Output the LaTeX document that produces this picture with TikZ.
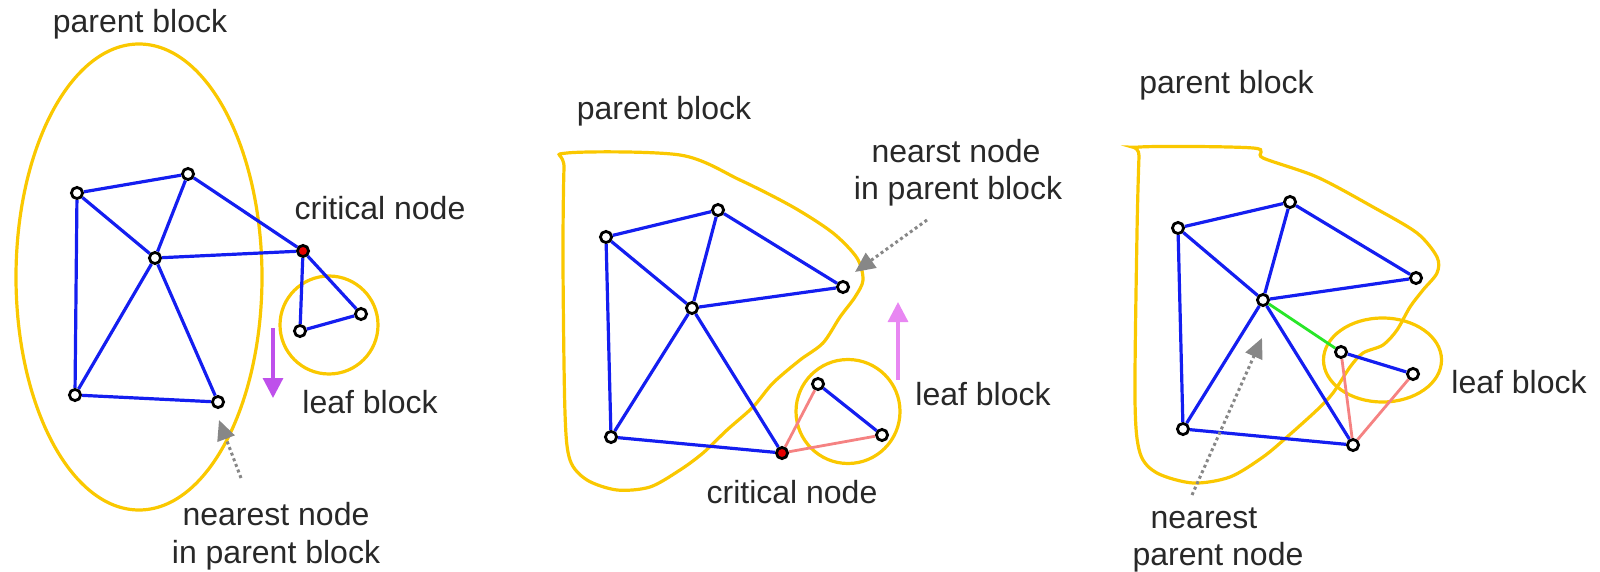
\documentclass[tikz,border=0pt]{standalone}
\usepackage{fontspec}
\setmainfont{Liberation Sans}
\usetikzlibrary{arrows.meta}
\definecolor{eblue}{RGB}{20,30,240}
\definecolor{byellow}{RGB}{250,200,0}
\definecolor{epink}{RGB}{245,130,130}
\definecolor{egreen}{RGB}{40,230,40}
\definecolor{agray}{RGB}{135,135,135}
\definecolor{txt}{RGB}{40,40,40}
\definecolor{violetA}{RGB}{190,80,235}
\definecolor{violetB}{RGB}{232,135,242}
\definecolor{critred}{RGB}{230,0,0}
\begin{document}
\begin{tikzpicture}[x=0.5pt,y=-0.5pt,
  vtx/.style={circle,draw=black,fill=white,line width=1.4pt,inner sep=0pt,minimum size=5.6pt},
  crit/.style={vtx,fill=critred},
  lbl/.style={text=txt,font=\fontsize{16}{19}\selectfont,anchor=base,inner sep=0pt},
  edge/.style={draw=eblue,line width=1.6pt},
  pedge/.style={draw=epink,line width=1.4pt},
  gedge/.style={draw=egreen,line width=1.4pt},
  blk/.style={draw=byellow,line width=1.6pt},
  hint/.style={draw=agray,line width=1.5pt,dash pattern=on 1.5pt off 1.5pt,-{Triangle[length=10pt,width=9pt]}},
  mv/.style={line width=1.6pt,-{Triangle[length=10pt,width=10pt]}}
]
\useasboundingbox (0,0) rectangle (1600,572);

% ================= Panel 1 =================
\draw[blk] (139,277) ellipse [x radius=61.5pt, y radius=116.5pt];
\draw[blk] (329,325) circle [radius=24.5pt];

\node[vtx]  (a1) at (77,193) {};
\node[vtx]  (b1) at (188,174) {};
\node[vtx]  (c1) at (155,258) {};
\node[vtx]  (d1) at (75,395) {};
\node[vtx]  (e1) at (218,402) {};
\node[crit] (f1) at (303,251) {};
\node[vtx]  (g1) at (300,331) {};
\node[vtx]  (h1) at (361,314) {};

\draw[edge] (a1) -- (b1);
\draw[edge] (a1) -- (c1);
\draw[edge] (a1) -- (d1);
\draw[edge] (b1) -- (c1);
\draw[edge] (b1) -- (f1);
\draw[edge] (c1) -- (f1);
\draw[edge] (c1) -- (d1);
\draw[edge] (c1) -- (e1);
\draw[edge] (d1) -- (e1);
\draw[edge] (f1) -- (g1);
\draw[edge] (f1) -- (h1);
\draw[edge] (g1) -- (h1);

\coordinate (m1s) at (273,328);
\coordinate (m1e) at (273,398);
\draw[mv,violetA] (m1s) -- (m1e);

\coordinate (n1s) at (241,478);
\coordinate (n1e) at (219,420);
\draw[hint] (n1s) -- (n1e);

\node[lbl] (pb1) at (140,33) {parent block};
\node[lbl] (cn1) at (380,220) {critical node};
\node[lbl] (lb1) at (370,413) {leaf block};
\node[lbl] (nn1a) at (276,525) {nearest node};
\node[lbl] (nn1b) at (276,563) {in parent block};

% ================= Panel 2 =================
\draw[blk] plot[smooth cycle, tension=0.5] coordinates {
  (567,153) (680,155) (740,180) (793,207) (833,233) (857,258) (863,280)
  (855,297) (840,317) (823,343) (800,360) (773,383) (753,407) (727,430)
  (703,453) (680,470) (650,487) (617,490) (587,480) (570,460) (565,413)
  (563,263) (564,168)};
\draw[blk] (848,411.5) circle [radius=26pt];

\node[vtx]  (a2) at (606,237) {};
\node[vtx]  (b2) at (718,210) {};
\node[vtx]  (c2) at (692,308) {};
\node[vtx]  (d2) at (843,287) {};
\node[vtx]  (e2) at (611,437) {};
\node[crit] (f2) at (782,453) {};
\node[vtx]  (g2) at (818,384) {};
\node[vtx]  (h2) at (882,435) {};

\draw[edge] (a2) -- (b2);
\draw[edge] (a2) -- (c2);
\draw[edge] (a2) -- (e2);
\draw[edge] (b2) -- (c2);
\draw[edge] (b2) -- (d2);
\draw[edge] (c2) -- (d2);
\draw[edge] (c2) -- (e2);
\draw[edge] (c2) -- (f2);
\draw[edge] (e2) -- (f2);
\draw[edge] (g2) -- (h2);
\draw[pedge] (f2) -- (g2);
\draw[pedge] (f2) -- (h2);

\coordinate (m2s) at (898,380);
\coordinate (m2e) at (898,302);
\draw[mv,violetB] (m2s) -- (m2e);

\coordinate (n2s) at (927,220);
\coordinate (n2e) at (855,272);
\draw[hint] (n2s) -- (n2e);

\node[lbl] (pb2) at (664,120) {parent block};
\node[lbl] (nn2a) at (956,163) {nearst node};
\node[lbl] (nn2b) at (958,200) {in parent block};
\node[lbl] (lb2) at (983,405) {leaf block};
\node[lbl] (cn2) at (792,503) {critical node};

% ================= Panel 3 =================
\draw[blk] plot[smooth cycle, tension=0.5] coordinates {
  (1140,147) (1253,148) (1263,158) (1317,177) (1373,207) (1417,233)
  (1437,257) (1437,273) (1423,290) (1410,307) (1397,330) (1383,345)
  (1363,353) (1350,367) (1333,393) (1317,410) (1287,437) (1263,457)
  (1230,477) (1193,483) (1157,473) (1140,453) (1135,400) (1137,233)
  (1139,156)};
\draw[blk] (1382.5,360) ellipse [x radius=29.5pt, y radius=21pt];

\node[vtx] (a3) at (1178,228) {};
\node[vtx] (b3) at (1290,202) {};
\node[vtx] (c3) at (1263,300) {};
\node[vtx] (d3) at (1416,278) {};
\node[vtx] (e3) at (1183,429) {};
\node[vtx] (f3) at (1353,445) {};
\node[vtx] (g3) at (1341,352) {};
\node[vtx] (h3) at (1413,374) {};

\draw[edge] (a3) -- (b3);
\draw[edge] (a3) -- (c3);
\draw[edge] (a3) -- (e3);
\draw[edge] (b3) -- (c3);
\draw[edge] (b3) -- (d3);
\draw[edge] (c3) -- (d3);
\draw[edge] (c3) -- (e3);
\draw[edge] (c3) -- (f3);
\draw[edge] (e3) -- (f3);
\draw[edge] (g3) -- (h3);
\draw[gedge] (c3) -- (g3);
\draw[pedge] (f3) -- (g3);
\draw[pedge] (f3) -- (h3);

\coordinate (n3s) at (1192,495);
\coordinate (n3e) at (1262,338);
\draw[hint] (n3s) -- (n3e);

\node[lbl] (pb3) at (1226.5,94) {parent block};
\node[lbl] (lb3) at (1519,393) {leaf block};
\node[lbl] (nn3a) at (1204,528) {nearest};
\node[lbl] (nn3b) at (1218,565) {parent node};
\end{tikzpicture}
\end{document}
